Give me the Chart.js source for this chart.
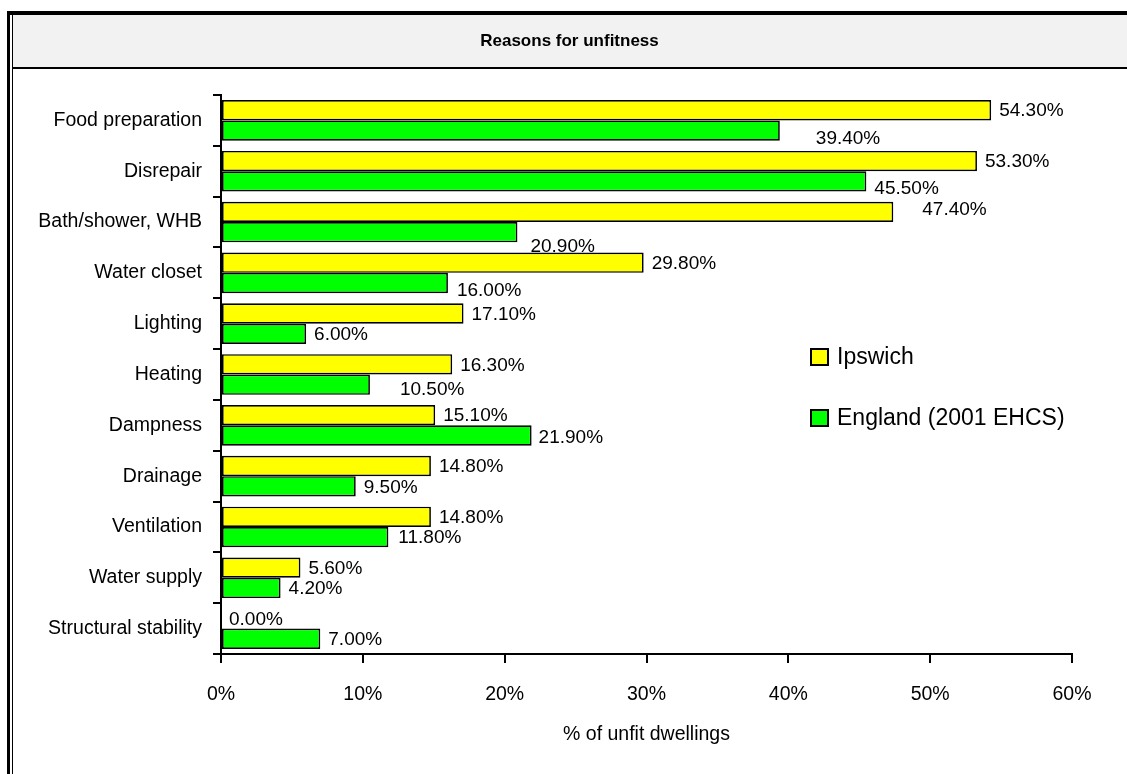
<!DOCTYPE html>
<html>
<head>
<meta charset="utf-8">
<script src="https://cdn.jsdelivr.net/npm/chart.js@4.4.1/dist/chart.umd.min.js"></script>
<style>
  html, body { margin: 0; padding: 0; background: #fff; }
  #wrap { width: 1127px; height: 774px; position: relative; }
</style>
</head>
<body>
<div id="wrap"><canvas id="c"></canvas></div>
<script>
const categories = ['Food preparation', 'Disrepair', 'Bath/shower, WHB', 'Water closet', 'Lighting', 'Heating', 'Dampness', 'Drainage', 'Ventilation', 'Water supply', 'Structural stability'];
const seriesNames = ['Ipswich', 'England (2001 EHCS)'];
const ipswich = [54.3, 53.3, 47.4, 29.8, 17.1, 16.3, 15.1, 14.8, 14.8, 5.6, 0.0];
const england = [39.4, 45.5, 20.9, 16.0, 6.0, 10.5, 21.9, 9.5, 11.8, 4.2, 7.0];
const xTickValues = [0, 10, 20, 30, 40, 50, 60];
const chartTitle = 'Reasons for unfitness';
const xAxisTitle = '% of unfit dwellings';

// extra label nudges (manually moved labels in the original)
const labelNudge = [
  {2: [21, -3]},
  {0: [28, 7], 1: [0, 6], 2: [5, 14], 3: [1, 7], 5: [22, 4], 6: [-1, 1], 8: [2, 0]}
];

const FONT = "'Liberation Sans', Arial, Helvetica, sans-serif";
Chart.defaults.font.family = FONT;
Chart.defaults.color = '#000';

const framePlugin = {
  id: 'frame',
  beforeDraw(chart) {
    const ctx = chart.ctx;
    const W = chart.width, H = chart.height;
    ctx.save();
    ctx.fillStyle = '#fff';
    ctx.fillRect(0, 0, W, H);
    ctx.fillStyle = '#f2f2f2';
    ctx.fillRect(13, 15, W - 13, 52);
    ctx.fillStyle = '#000';
    ctx.fillRect(7, 11, W - 7, 4);      // top thick
    ctx.fillRect(7, 11, 3, H - 11);     // left thick
    ctx.fillRect(12, 15, 1, H - 15);    // left thin
    ctx.fillRect(13, 67, W - 13, 2);    // title separator
    ctx.restore();
  }
};

const labelPlugin = {
  id: 'barLabels',
  afterDatasetsDraw(chart) {
    const ctx = chart.ctx;
    ctx.save();
    ctx.font = '19px ' + FONT;
    ctx.fillStyle = '#000';
    ctx.textAlign = 'left';
    ctx.textBaseline = 'middle';
    chart.data.datasets.forEach((ds, di) => {
      const meta = chart.getDatasetMeta(di);
      meta.data.forEach((el, i) => {
        const n = (labelNudge[di] && labelNudge[di][i]) || [0, 0];
        const txt = Number(ds.data[i]).toFixed(2) + '%';
        ctx.fillText(txt, el.x + 8 + n[0], el.y + 1 + n[1]);
      });
    });
    ctx.restore();
  }
};

const legendPlugin = {
  id: 'customLegend',
  afterDraw(chart) {
    const ctx = chart.ctx;
    ctx.save();
    const items = chart.data.datasets;
    const x0 = 810, ys = [357, 418];
    ctx.font = '23px ' + FONT;
    ctx.textBaseline = 'middle';
    ctx.textAlign = 'left';
    items.forEach((ds, i) => {
      const y = ys[i];
      ctx.fillStyle = '#000';
      ctx.fillRect(x0, y - 9, 19, 18);
      ctx.fillStyle = ds.backgroundColor;
      ctx.fillRect(x0 + 2, y - 7, 15, 14);
      ctx.fillStyle = '#000';
      ctx.fillText(ds.label, 837, y + 1);
    });
    ctx.restore();
  }
};

new Chart(document.getElementById('c'), {
  type: 'bar',
  data: {
    labels: categories,
    datasets: [
      { label: seriesNames[0], data: ipswich, backgroundColor: '#ffff00', borderColor: '#000', borderWidth: 1.7, borderSkipped: false },
      { label: seriesNames[1], data: england, backgroundColor: '#00ff00', borderColor: '#000', borderWidth: 1.7, borderSkipped: false }
    ]
  },
  options: {
    indexAxis: 'y',
    responsive: true,
    maintainAspectRatio: false,
    animation: false,
    layout: { padding: { left: 12, right: 0, top: 0, bottom: 0 } },
    datasets: { bar: { categoryPercentage: 0.8, barPercentage: 1.0 } },
    plugins: {
      legend: { display: false },
      tooltip: { enabled: false },
      title: {
        display: true,
        text: chartTitle,
        color: '#000',
        font: { family: FONT, size: 17, weight: 'bold', lineHeight: 1.2 },
        padding: { top: 31, bottom: 43.6 }
      }
    },
    scales: {
      x: {
        type: 'linear',
        min: 0,
        max: 60,
        afterBuildTicks(scale) { scale.ticks = xTickValues.map(v => ({ value: v })); },
        afterFit(scale) { scale.height = 120; },
        ticks: { callback: v => v + '%', font: { size: 19.5 }, padding: 20, color: '#000', maxRotation: 0 },
        grid: { drawOnChartArea: false, drawTicks: true, tickLength: 9, color: '#000', lineWidth: 2 },
        border: { display: true, color: '#000', width: 2 },
        title: { display: true, text: xAxisTitle, color: '#000', font: { size: 19.5 }, padding: { top: 0, bottom: 28 } }
      },
      y: {
        type: 'category',
        afterFit(scale) { scale.width = 209; },
        ticks: { font: { size: 19.5 }, padding: 11, color: '#000', autoSkip: false },
        grid: { offset: true, drawOnChartArea: false, drawTicks: true, tickLength: 8, color: '#000', lineWidth: 2 },
        border: { display: true, color: '#000', width: 2 }
      },
      yRightSpace: {
        type: 'linear',
        axis: 'y',
        position: 'right',
        display: true,
        afterFit(scale) { scale.width = 55; },
        ticks: { display: false },
        grid: { display: false, drawTicks: false },
        border: { display: false }
      }
    }
  },
  plugins: [framePlugin, labelPlugin, legendPlugin]
});
</script>
</body>
</html>
